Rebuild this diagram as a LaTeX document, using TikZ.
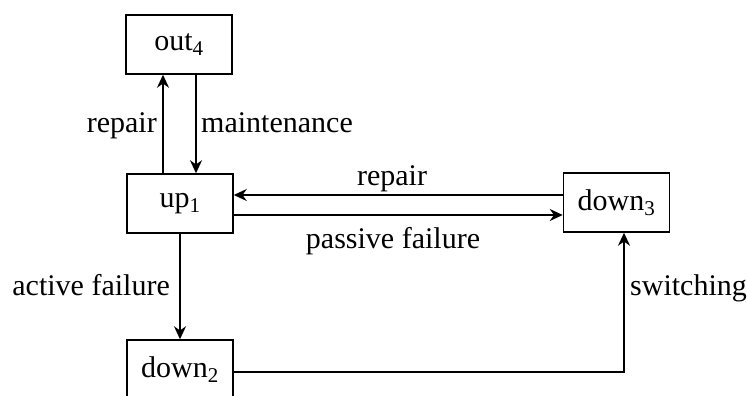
\documentclass[tikz,border=0pt]{standalone}
\usepackage{fontspec}
\setmainfont{Liberation Serif}
\usetikzlibrary{arrows.meta}
\begin{document}
\begin{tikzpicture}[x=1pt,y=-1pt,
  statebox/.style={draw,line width=1.5pt,minimum width=106pt,minimum height=59pt,inner sep=0pt,font=\fontsize{30}{36}\selectfont},
  lbl/.style={inner sep=0pt,font=\fontsize{30}{36}\selectfont},
  conn/.style={line width=1.8pt,-{Stealth[length=13pt,width=12pt]}}]
\clip (0,0) rectangle (747,396);
\node[statebox] (out4) at (179,44.5) {out\textsubscript{4}};
\node[statebox] (up1) at (180,203.5) {up\textsubscript{1}};
\node[statebox] (down3) at (616.5,202.5) {down\textsubscript{3}};
\node[statebox] (down2) at (180,369.5) {down\textsubscript{2}};
\draw[conn] ([xshift=-17pt]up1.north) -- ([xshift=-16pt]out4.south);
\draw[conn] ([xshift=17pt]out4.south) -- ([xshift=16pt]up1.north);
\draw[conn] ([yshift=7.5pt]down3.west) -- ([yshift=8.5pt]up1.east);
\draw[conn] ([yshift=-11.5pt]up1.east) -- ([yshift=-12.5pt]down3.west);
\draw[conn] (up1.south) -- (down2.north);
\draw[conn] ([yshift=-2.5pt]down2.east) -| ([xshift=7.5pt]down3.south);
\node[lbl,anchor=base east] (lrep) at (157,132) {repair};
\node[lbl,anchor=base west] (lmain) at (201,132) {maintenance};
\node[lbl,anchor=base] (lrep2) at (392,185) {repair};
\node[lbl,anchor=base] (lpas) at (393,248) {passive failure};
\node[lbl,anchor=base east] (lact) at (170,295) {active failure};
\node[lbl,anchor=base west] (lsw) at (630,295) {switching};
\end{tikzpicture}
\end{document}
